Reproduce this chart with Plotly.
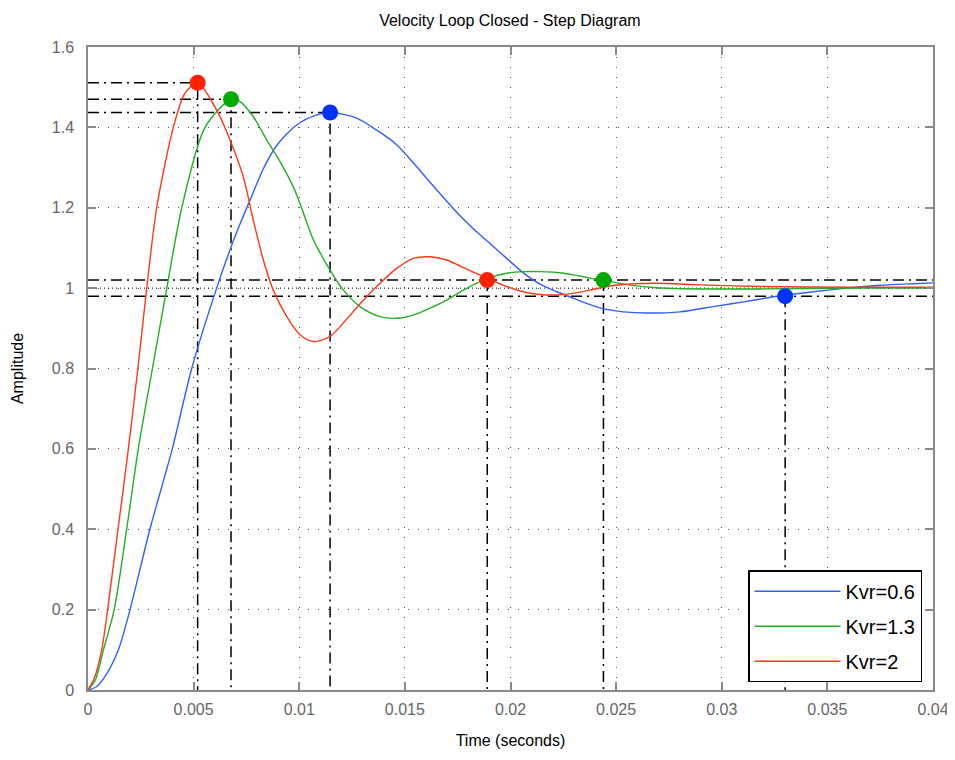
import plotly.graph_objects as go

# ---- data ----
t_red = [0, 0.00030, 0.00065, 0.00093, 0.00142, 0.00191, 0.00236, 0.00278, 0.00325, 0.00404, 0.00459,
         0.00519, 0.00617, 0.00672, 0.00735, 0.00782, 0.00830, 0.00877, 0.00941, 0.01004,
         0.01067, 0.01146, 0.01225, 0.01303, 0.01382, 0.01461, 0.01540, 0.01619, 0.01698,
         0.01761, 0.01824, 0.01895, 0.01982, 0.02061, 0.02140, 0.02219, 0.02297, 0.02376,
         0.02455, 0.02534, 0.02692, 0.02897, 0.03181, 0.0361, 0.04]
y_red = [0, 0.03, 0.10, 0.20, 0.40, 0.60, 0.80, 1.00, 1.20, 1.40, 1.485,
         1.511, 1.435, 1.369, 1.277, 1.170, 1.070, 0.995, 0.929, 0.884,
         0.867, 0.880, 0.923, 0.970, 1.012, 1.049, 1.074, 1.078, 1.070,
         1.055, 1.040, 1.023, 1.004, 0.991, 0.984, 0.983, 0.987, 0.995,
         1.004, 1.009, 1.012, 1.008, 1.004, 1.002, 1.002]

t_green = [0, 0.00035, 0.00073, 0.00124, 0.00183, 0.00238, 0.00305, 0.00373, 0.00444, 0.00554, 0.00677,
           0.00720, 0.00782, 0.00846, 0.00909, 0.00972, 0.01004, 0.01067, 0.01146, 0.01209,
           0.01288, 0.01382, 0.01461, 0.01540, 0.01619, 0.01698, 0.01745, 0.01824, 0.01903,
           0.01982, 0.02061, 0.02140, 0.02219, 0.02297, 0.02376, 0.02439, 0.02534, 0.02692,
           0.02897, 0.0318, 0.0361, 0.04]
y_green = [0, 0.025, 0.10, 0.20, 0.40, 0.60, 0.80, 1.00, 1.20, 1.40, 1.470,
           1.464, 1.427, 1.369, 1.315, 1.252, 1.210, 1.120, 1.045, 0.995,
           0.954, 0.929, 0.925, 0.933, 0.950, 0.970, 0.985, 1.008, 1.026,
           1.037, 1.041, 1.041, 1.039, 1.033, 1.025, 1.020, 1.010, 1.001,
           0.998, 0.998, 1.000, 1.000]

t_blue = [0, 0.00040, 0.00080, 0.00144, 0.00199, 0.00293, 0.00399, 0.00491, 0.00609, 0.00672, 0.00720,
          0.00767, 0.00830, 0.00893, 0.00988, 0.01083, 0.01146, 0.01272, 0.01367, 0.01461, 0.01556,
          0.01651, 0.01761, 0.01824, 0.01903, 0.01982, 0.02061, 0.02140, 0.02219, 0.02297,
          0.02376, 0.02455, 0.02534, 0.02645, 0.02802, 0.02960, 0.03118, 0.03276, 0.03433,
          0.03591, 0.03749, 0.03907, 0.04]
y_blue = [0, 0.008, 0.033, 0.10, 0.20, 0.40, 0.60, 0.80, 1.00, 1.095, 1.160,
          1.219, 1.297, 1.355, 1.406, 1.431, 1.437, 1.423, 1.393, 1.357, 1.302,
          1.244, 1.180, 1.148, 1.111, 1.074, 1.038, 1.010, 0.991, 0.975,
          0.959, 0.947, 0.941, 0.938, 0.941, 0.954, 0.967, 0.981, 0.991,
          1.000, 1.007, 1.011, 1.013]

series_names = ["Kvr=0.6", "Kvr=1.3", "Kvr=2"]
peak_t = [0.01146, 0.00677, 0.00519]
peak_y = [1.437, 1.470, 1.511]
settle_t = [0.0330, 0.0244, 0.0189]
settle_y = [0.98, 1.02, 1.02]
final_value = 1.0
settle_band = [0.98, 1.02]

x_ticks = [0, 0.005, 0.01, 0.015, 0.02, 0.025, 0.03, 0.035, 0.04]
x_tick_text = ["0", "0.005", "0.01", "0.015", "0.02", "0.025", "0.03", "0.035", "0.04"]
y_ticks = [0, 0.2, 0.4, 0.6, 0.8, 1.0, 1.2, 1.4, 1.6]
y_tick_text = ["0", "0.2", "0.4", "0.6", "0.8", "1", "1.2", "1.4", "1.6"]

# ---- styling ----
line_colors = ["#3060ff", "#20b020", "#ff3818"]
marker_colors = ["#0033ff", "#00aa00", "#ff2200"]
DASHDOT = "11px,5px,2px,5px"
FONT = "Liberation Sans, Arial, sans-serif"
x_max = x_ticks[-1]

fig = go.Figure()

curves = [(t_blue, y_blue), (t_green, y_green), (t_red, y_red)]

# reference lines (drawn first, below curves)
for yb in settle_band:
    fig.add_trace(go.Scatter(x=[0, x_max], y=[yb, yb], mode="lines",
                             line=dict(color="black", width=1.5, dash=DASHDOT),
                             showlegend=False, hoverinfo="skip"))
fig.add_trace(go.Scatter(x=[0, x_max], y=[final_value, final_value], mode="lines",
                         line=dict(color="black", width=1, dash="1px,3px"),
                         showlegend=False, hoverinfo="skip"))
for i in range(3):
    fig.add_trace(go.Scatter(x=[0, peak_t[i], peak_t[i]], y=[peak_y[i], peak_y[i], 0],
                             mode="lines", line=dict(color="black", width=1.5, dash=DASHDOT),
                             showlegend=False, hoverinfo="skip"))
    fig.add_trace(go.Scatter(x=[settle_t[i], settle_t[i]], y=[settle_y[i], 0],
                             mode="lines", line=dict(color="black", width=1.5, dash=DASHDOT),
                             showlegend=False, hoverinfo="skip"))

for i, (tt, yy) in enumerate(curves):
    fig.add_trace(go.Scatter(x=tt, y=yy, mode="lines", name=series_names[i],
                             legendgroup="g%d" % i,
                             line=dict(color=line_colors[i], width=1.4, shape="spline", smoothing=0.8)))

for i in range(3):
    fig.add_trace(go.Scatter(x=[peak_t[i], settle_t[i]], y=[peak_y[i], settle_y[i]],
                             mode="markers", marker=dict(color=marker_colors[i], size=16),
                             showlegend=False, hoverinfo="skip"))

axis_common = dict(
    showline=True, linecolor="#8a8a8a", linewidth=1.5, mirror="ticks",
    ticks="inside", ticklen=8, tickcolor="#8a8a8a", tickwidth=1.5,
    showgrid=True, gridcolor="#555555", griddash="1px,9px", gridwidth=1,
    zeroline=False, automargin=False,
    tickfont=dict(family=FONT, size=16, color="#666666"),
)

# the page body has an 8px default margin; the figure is sized to fill the rest
fig.update_layout(
    width=947, height=752,
    margin=dict(l=80, r=22, t=39, b=70),
    paper_bgcolor="white", plot_bgcolor="white",
    title=dict(text="Velocity Loop Closed - Step Diagram", x=0.530, xanchor="center",
               y=0.984, yanchor="middle", font=dict(family=FONT, size=16, color="black")),
    xaxis=dict(range=[0, x_max], tickvals=x_ticks, ticktext=x_tick_text,
               ticklabelstandoff=4,
               title=dict(text="Time (seconds)", font=dict(family=FONT, size=16, color="black"),
                          standoff=18), **axis_common),
    yaxis=dict(range=[0, y_ticks[-1]], tickvals=y_ticks, ticktext=y_tick_text,
               ticklabelstandoff=9,
               title=dict(text="Amplitude", font=dict(family=FONT, size=16, color="black"),
                          standoff=24), **axis_common),
    legend=dict(x=0.987, y=0.012, xanchor="right", yanchor="bottom",
                bgcolor="white", bordercolor="black", borderwidth=1.5,
                font=dict(family=FONT, size=20, color="black"),
                itemwidth=86, tracegroupgap=6, traceorder="grouped"),
    showlegend=True,
)

fig.write_html("out.html")
